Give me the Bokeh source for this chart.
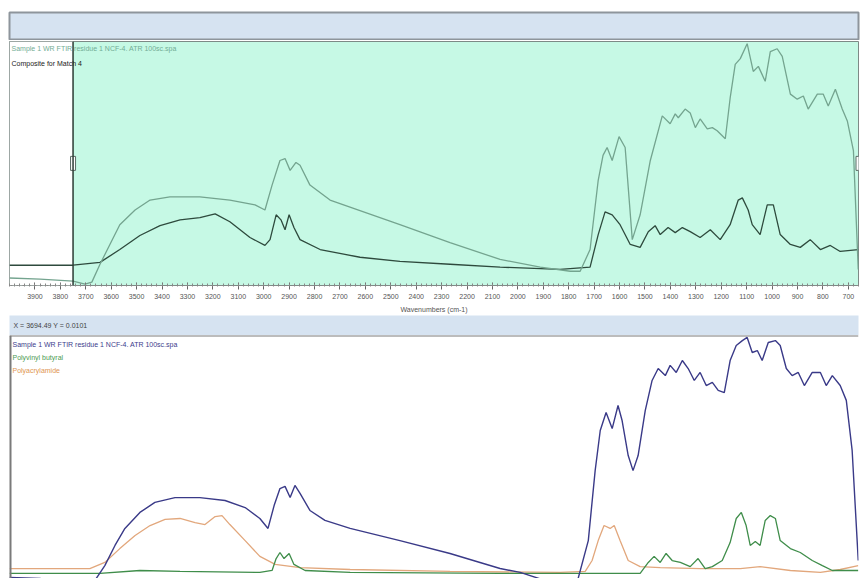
from bokeh.plotting import figure
from bokeh.models import Range1d, BoxAnnotation, Span, Label, FixedTicker
from bokeh.layouts import column
from bokeh.embed import file_html
from bokeh.resources import INLINE

# ---------------- data ----------------
# top panel: sample spectrum (wavenumber cm-1, absorbance, arbitrary units)
top_sample_wn = [4000, 3880, 3750, 3703, 3676, 3644, 3605, 3566, 3506, 3447, 3369, 3251, 3133, 3034,
                 2995, 2967, 2936, 2916, 2896, 2873, 2857, 2818, 2739, 2464, 2267, 2070, 1912, 1794,
                 1755, 1716, 1684, 1665, 1649, 1629, 1602, 1578, 1550, 1519, 1479, 1432, 1401, 1381,
                 1369, 1342, 1322, 1302, 1283, 1255, 1235, 1216, 1184, 1165, 1145, 1125, 1098, 1074,
                 1054, 1027, 1007, 980, 960, 928, 901, 877, 858, 822, 799, 779, 751, 724, 704, 680, 661]
top_sample_abs = [0.025, 0.020, 0.012, 0.000, 0.008, 0.082, 0.164, 0.246, 0.307, 0.348, 0.361, 0.361, 0.348, 0.328,
                  0.307, 0.410, 0.512, 0.520, 0.471, 0.504, 0.492, 0.410, 0.348, 0.246, 0.172, 0.102, 0.070, 0.053,
                  0.053, 0.143, 0.430, 0.533, 0.566, 0.512, 0.611, 0.566, 0.184, 0.287, 0.512, 0.697, 0.664, 0.705,
                  0.689, 0.725, 0.709, 0.648, 0.684, 0.643, 0.648, 0.635, 0.602, 0.770, 0.910, 0.934, 0.996, 0.881,
                  0.902, 0.840, 0.963, 0.975, 0.943, 0.787, 0.766, 0.779, 0.725, 0.787, 0.787, 0.738, 0.807, 0.725,
                  0.676, 0.553, 0.060]

# top panel: composite for match
composite_wn = [4000, 3750, 3644, 3566, 3487, 3408, 3329, 3251, 3191, 3133, 3054, 2995, 2975, 2951, 2932,
                2916, 2900, 2881, 2857, 2778, 2621, 2464, 2267, 2070, 1834, 1716, 1684, 1657, 1629, 1598,
                1558, 1519, 1487, 1460, 1440, 1409, 1381, 1353, 1322, 1283, 1243, 1204, 1165, 1133, 1117,
                1094, 1078, 1047, 1019, 995, 968, 928, 889, 850, 810, 771, 732, 661]
composite_abs = [0.078, 0.078, 0.090, 0.143, 0.201, 0.242, 0.266, 0.275, 0.291, 0.258, 0.193, 0.160, 0.184, 0.287, 0.266,
                 0.225, 0.287, 0.234, 0.184, 0.143, 0.111, 0.094, 0.082, 0.070, 0.061, 0.070, 0.205, 0.299, 0.287, 0.246,
                 0.164, 0.152, 0.217, 0.242, 0.205, 0.234, 0.213, 0.234, 0.217, 0.193, 0.225, 0.184, 0.246, 0.348, 0.357,
                 0.307, 0.246, 0.205, 0.328, 0.328, 0.205, 0.164, 0.152, 0.184, 0.143, 0.160, 0.135, 0.143]

# bottom panel: sample spectrum
sample_wn = [4000, 3880, 3802, 3664, 3625, 3585, 3546, 3487, 3428, 3349, 3251, 3152, 3073, 3015, 2983,
             2959, 2936, 2916, 2896, 2877, 2857, 2818, 2759, 2660, 2464, 2267, 2149, 2070, 1991, 1893,
             1814, 1763, 1723, 1696, 1676, 1653, 1629, 1606, 1590, 1566, 1547, 1527, 1499, 1472, 1448,
             1420, 1401, 1377, 1353, 1330, 1306, 1283, 1259, 1235, 1212, 1188, 1165, 1141, 1117, 1098,
             1078, 1058, 1039, 1015, 987, 968, 944, 921, 897, 873, 842, 810, 787, 763, 732, 708, 685, 661]
sample_abs = [0.004, 0.000, -0.016, -0.008, 0.053, 0.136, 0.206, 0.272, 0.313, 0.333, 0.333, 0.321, 0.292, 0.247, 0.206,
              0.300, 0.370, 0.379, 0.333, 0.383, 0.350, 0.280, 0.239, 0.206, 0.156, 0.103, 0.066, 0.041, 0.025, -0.008,
              -0.016, 0.000, 0.156, 0.444, 0.609, 0.683, 0.617, 0.712, 0.650, 0.506, 0.444, 0.506, 0.691, 0.815, 0.864,
              0.835, 0.877, 0.848, 0.897, 0.864, 0.815, 0.848, 0.794, 0.807, 0.774, 0.765, 0.897, 0.959, 0.979, 0.992,
              0.930, 0.938, 0.897, 0.971, 0.979, 0.959, 0.864, 0.835, 0.848, 0.794, 0.848, 0.848, 0.794, 0.835, 0.794,
              0.733, 0.527, 0.074]

# bottom panel: reference library spectrum - Polyvinyl butyral
pvb_wn = [4000, 3644, 3487, 3329, 3015, 2967, 2951, 2936, 2920, 2900, 2881, 2837, 2660, 2070, 1519,
          1487, 1464, 1440, 1417, 1393, 1361, 1322, 1291, 1263, 1235, 1196, 1165, 1141, 1121, 1102,
          1086, 1066, 1047, 1027, 1007, 987, 968, 928, 889, 842, 802, 763, 661]
pvb_abs = [0.021, 0.021, 0.033, 0.029, 0.025, 0.033, 0.082, 0.107, 0.082, 0.103, 0.058, 0.033, 0.025, 0.021, 0.021,
           0.066, 0.091, 0.066, 0.103, 0.074, 0.066, 0.049, 0.082, 0.041, 0.049, 0.074, 0.148, 0.247, 0.272, 0.218,
           0.136, 0.152, 0.136, 0.239, 0.259, 0.247, 0.156, 0.123, 0.107, 0.074, 0.053, 0.033, 0.033]

# bottom panel: reference library spectrum - Polyacrylamide
pam_wn = [4000, 3684, 3625, 3566, 3506, 3447, 3388, 3329, 3270, 3231, 3191, 3164, 3133, 3073, 3015,
          2955, 2857, 2660, 2267, 1834, 1735, 1708, 1684, 1661, 1637, 1621, 1598, 1566, 1519, 1440,
          1283, 1125, 1047, 928, 810, 732, 661]
pam_abs = [0.041, 0.041, 0.066, 0.123, 0.177, 0.218, 0.243, 0.247, 0.230, 0.222, 0.255, 0.259, 0.222, 0.156, 0.091,
           0.058, 0.045, 0.037, 0.029, 0.025, 0.029, 0.074, 0.156, 0.218, 0.206, 0.218, 0.156, 0.074, 0.049, 0.045,
           0.041, 0.041, 0.049, 0.033, 0.025, 0.037, 0.053]

tick_values = [3900, 3800, 3700, 3600, 3500, 3400, 3300, 3200, 3100, 3000, 2900, 2800, 2700, 2600, 2500, 2400,
               2300, 2200, 2100, 2000, 1900, 1800, 1700, 1600, 1500, 1400, 1300, 1200, 1100, 1000, 900, 800, 700]
tick_labels = ["3900", "3800", "3700", "3600", "3500", "3400", "3300", "3200", "3100", "3000", "2900", "2800",
               "2700", "2600", "2500", "2400", "2300", "2200", "2100", "2000", "1900", "1800", "1700", "1600",
               "1500", "1400", "1300", "1200", "1100", "1000", "900", "800", "700"]

sample_name = "Sample 1 WR FTIR residue 1 NCF-4. ATR 100sc.spa"
composite_name = "Composite for Match 4"
pvb_name = "Polyvinyl butyral"
pam_name = "Polyacrylamide"
axis_title = "Wavenumbers (cm-1)"
status_text = "X = 3694.49   Y = 0.0101"
region_left = 3750
wn_max, wn_min = 4000, 660

# ---------------- styling ----------------
FONT = "Liberation Sans"
BAR_BLUE = "#d6e3f1"
MINT = "#c6f9e5"
W = 861

# header bar (window title strip)
header = figure(width=W, height=40, toolbar_location=None, output_backend="svg",
                x_range=Range1d(0, 1), y_range=Range1d(0, 1),
                x_axis_location=None, y_axis_location=None)
header.grid.visible = False
header.min_border = 0
header.min_border_top = 12
header.min_border_left = 6
header.background_fill_color = BAR_BLUE
header.border_fill_color = "white"
header.outline_line_color = "#8e959c"
header.outline_line_width = 2

# top panel
top = figure(width=W, height=275, toolbar_location=None, output_backend="svg",
             x_range=Range1d(wn_max, wn_min), y_range=Range1d(-0.006, 1.005),
             y_axis_location=None)
top.min_border = 0
top.min_border_left = 9
top.min_border_right = 3
top.min_border_top = 1
top.min_border_bottom = 30
top.grid.visible = False
top.background_fill_color = MINT
top.border_fill_color = "white"
top.outline_line_color = "#7d8a86"
top.outline_line_width = 1

top.add_layout(BoxAnnotation(left=wn_max, right=region_left, fill_color="white", fill_alpha=1.0,
                             line_alpha=0, level="underlay"))
top.add_layout(Span(location=region_left, dimension="height", line_color="#2b3b34", line_width=1.5))

top.line(composite_wn, composite_abs, line_color="#2e4a3d", line_width=1.3)
top.line(top_sample_wn, top_sample_abs, line_color="#74a48f", line_width=1.3)

# selection handles
top.rect(x=[region_left, wn_min], y=[0.5, 0.5], width=5, height=14,
         width_units="screen", height_units="screen", fill_color="white", line_color="#5a6a64")

xa = top.xaxis[0]
xa.ticker = FixedTicker(ticks=tick_values, minor_ticks=list(range(4000, 640, -20)))
xa.major_label_overrides = {v: s for v, s in zip(tick_values, tick_labels)}
xa.major_label_text_font = FONT
xa.major_label_text_font_size = "7px"
xa.major_label_text_color = "#555555"
xa.major_label_standoff = 4
xa.axis_line_color = "#8a8a8a"
xa.axis_line_dash = "dotted"
xa.major_tick_line_color = "#666666"
xa.major_tick_in = 3
xa.major_tick_out = 4
xa.minor_tick_line_color = "#888888"
xa.minor_tick_in = 2
xa.minor_tick_out = 1
xa.axis_label = axis_title
xa.axis_label_text_font = FONT
xa.axis_label_text_font_size = "7px"
xa.axis_label_text_font_style = "normal"
xa.axis_label_text_color = "#555555"
xa.axis_label_standoff = 4

top.add_layout(Label(x=2, y=241, x_units="screen", y_units="screen", text=sample_name,
                     text_font=FONT, text_font_size="7px", text_color="#72ad95",
                     text_baseline="top"))
top.add_layout(Label(x=2, y=226, x_units="screen", y_units="screen", text=composite_name,
                     text_font=FONT, text_font_size="7px", text_color="#222222",
                     text_baseline="top"))

# status bar
status = figure(width=W, height=20, toolbar_location=None, output_backend="svg",
                x_range=Range1d(0, 1), y_range=Range1d(0, 1),
                x_axis_location=None, y_axis_location=None)
status.grid.visible = False
status.min_border = 0
status.min_border_left = 8
status.background_fill_color = BAR_BLUE
status.border_fill_color = "white"
status.outline_line_color = None
status.add_layout(Label(x=4, y=10, x_units="screen", y_units="screen", text=status_text,
                        text_font=FONT, text_font_size="7px", text_color="#444444",
                        text_baseline="middle"))

# bottom panel
bottom = figure(width=W, height=243, toolbar_location=None, output_backend="svg",
                x_range=Range1d(wn_max, wn_min), y_range=Range1d(0.0, 1.0),
                x_axis_location=None, y_axis_location=None)
bottom.grid.visible = False
bottom.min_border = 0
bottom.min_border_left = 8
bottom.min_border_top = 0
bottom.min_border_right = 3
bottom.background_fill_color = "white"
bottom.border_fill_color = "white"
bottom.outline_line_color = None
bottom.add_layout(Span(location=wn_max, dimension="height", line_color="#7a7a7a", line_width=4))
bottom.add_layout(Span(location=1.0, dimension="width", line_color="#7a7a7a", line_width=2))

bottom.line(pam_wn, pam_abs, line_color="#e2a77c", line_width=1.3)
bottom.line(pvb_wn, pvb_abs, line_color="#3f8d4a", line_width=1.3)
bottom.line(sample_wn, sample_abs, line_color="#3a3a88", line_width=1.4)

for i, (txt, col) in enumerate([(sample_name, "#3d3d8c"), (pvb_name, "#4a9a52"), (pam_name, "#e0954f")]):
    bottom.add_layout(Label(x=3, y=238 - 13 * i, x_units="screen", y_units="screen", text=txt,
                            text_font=FONT, text_font_size="7px", text_color=col,
                            text_baseline="top"))

layout = column(header, top, status, bottom, spacing=0)
open("out.html", "w").write(file_html(layout, INLINE))
